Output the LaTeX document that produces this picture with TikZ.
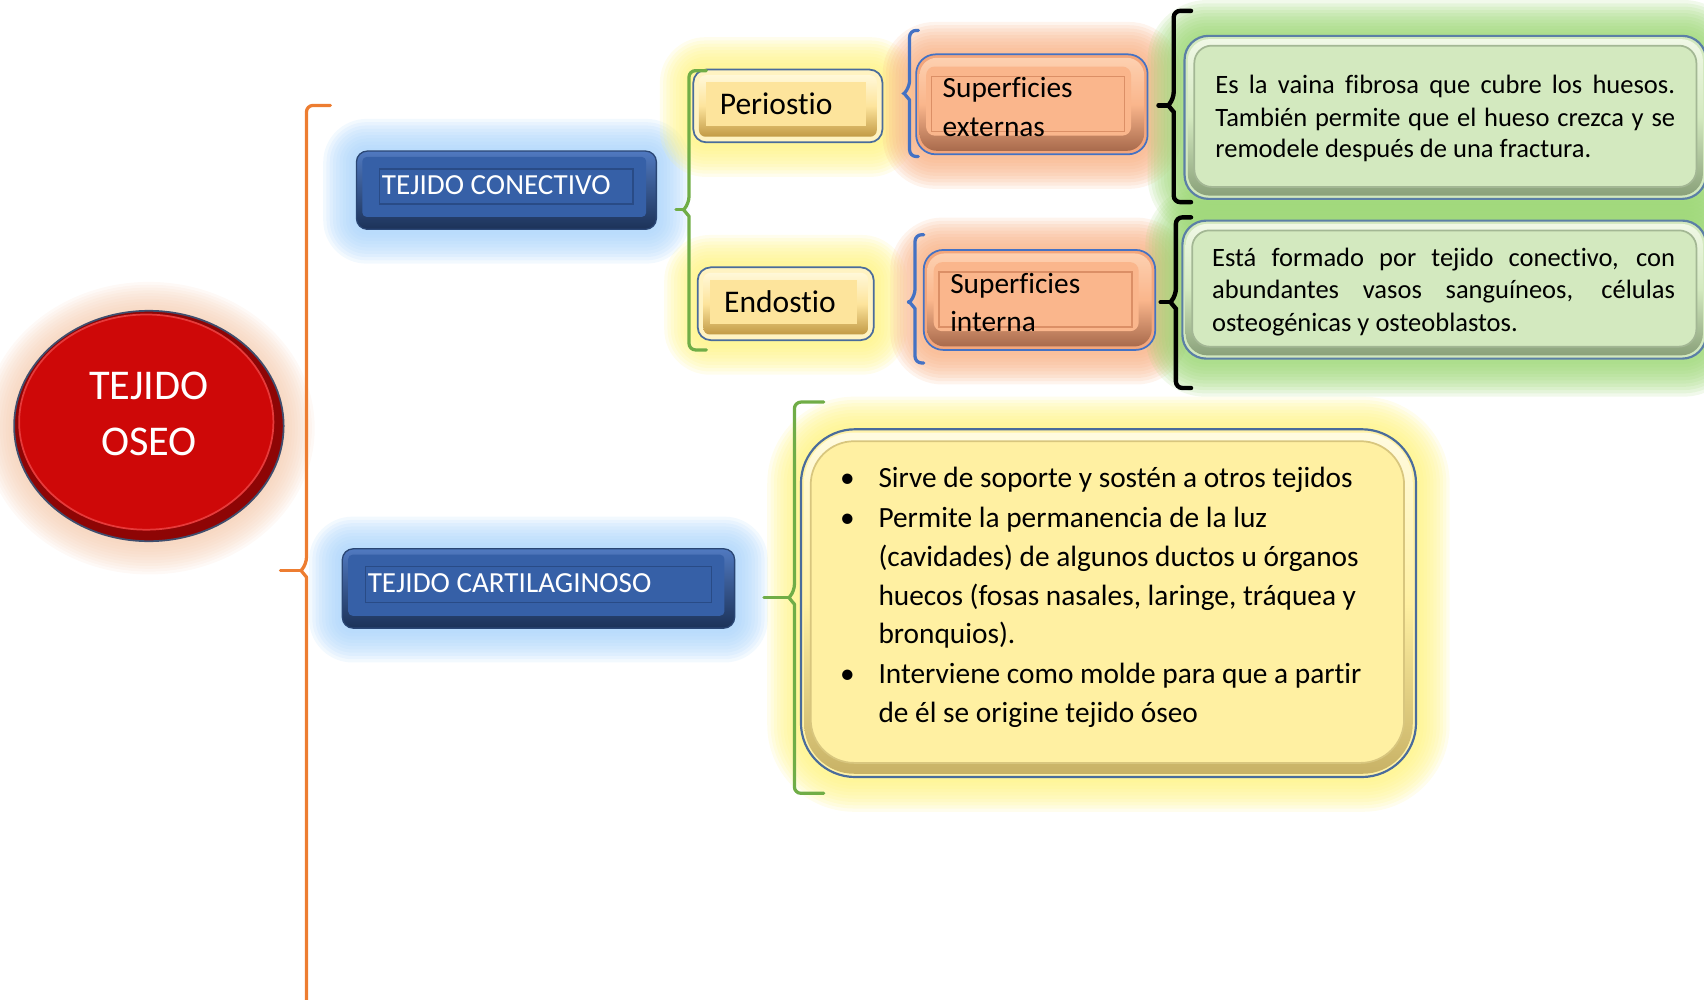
\documentclass[tikz,border=0pt]{standalone}
\usepackage{fontspec}
\setmainfont{Carlito}[Ligatures=NoCommon]
\usetikzlibrary{backgrounds,calc,shapes.geometric}
\definecolor{blueTop}{HTML}{5079C0}
\definecolor{blueBot}{HTML}{1C3258}
\definecolor{blueFace}{HTML}{3660A7}
\definecolor{blueEdge}{HTML}{2A4674}
\definecolor{blueLine}{HTML}{294B86}
\definecolor{goldFill}{HTML}{FFF3C2}
\definecolor{frameEdge}{HTML}{4A6C9B}
\definecolor{goldTop}{HTML}{FFF8D8}
\definecolor{goldBot}{HTML}{C29A45}
\definecolor{goldFace}{HTML}{FDE49C}
\definecolor{salEdge}{HTML}{4472C4}
\definecolor{salFill}{HTML}{F3A67C}
\definecolor{salTop}{HTML}{FDD0B0}
\definecolor{salBot}{HTML}{A86A4C}
\definecolor{salFace}{HTML}{FAB68C}
\definecolor{salLine}{HTML}{DB8F66}
\definecolor{grnEdge}{HTML}{5B7FA6}
\definecolor{grnFill}{HTML}{D2E8BE}
\definecolor{grnTop}{HTML}{F0F8E6}
\definecolor{grnBot}{HTML}{8AA17A}
\definecolor{grnFace}{HTML}{D3E9BF}
\definecolor{grnLine}{HTML}{A3B794}
\definecolor{ylwFill}{HTML}{FFF2A8}
\definecolor{ylwTop}{HTML}{FFFBE0}
\definecolor{ylwBot}{HTML}{C8B266}
\definecolor{ylwFace}{HTML}{FFF0A2}
\definecolor{ylwLine}{HTML}{D8C67E}
\definecolor{redDark}{HTML}{8E0505}
\definecolor{redMain}{HTML}{CE0808}
\definecolor{redLight}{HTML}{E63A3A}
\definecolor{redEdge}{HTML}{3F4E6E}
\definecolor{glowBlue}{HTML}{A6D2FB}
\definecolor{glowYellow}{HTML}{FFF37E}
\definecolor{glowOrange}{HTML}{F8AE80}
\definecolor{glowGreen}{HTML}{9AD672}
\definecolor{glowRed}{HTML}{F4C8AA}
\definecolor{braceOrange}{HTML}{ED7D31}
\definecolor{braceGreen}{HTML}{70AD47}
\definecolor{braceBlue}{HTML}{4472C4}

\newcommand\insetbox[6]{\path[#6] ([shift={(#2,-#3)}]#1.north west) rectangle ([shift={(-#4,#5)}]#1.south east);}
\newcommand\rectglow[4]{\foreach \k in {1,...,#4}{\fill[#2, fill opacity=0.14, rounded corners={#3+1.5pt*\k}] ([shift={(-1.5pt*\k,1.5pt*\k-0.5pt)}]#1.north west) rectangle ([shift={(1.5pt*\k,-1.5pt*\k-0.5pt)}]#1.south east);}}
\newcommand\bracket[7]{%
  \draw[#1] (#5,#3) [rounded corners=3pt] -- (#2,#3) -- (#2,#6-6) [sharp corners] -- (#2-5,#6) -- (#2,#6+6) [rounded corners=3pt] -- (#2,#4) -- (#5,#4);
  \draw[#1] (#7,#6) -- (#2-5,#6);}

\tikzset{
  bluebox/.style={draw=blueEdge, line width=0.6pt, rounded corners=5pt, inner sep=0pt, top color=blueTop, bottom color=blueBot},
  goldbox/.style={draw=frameEdge, line width=0.8pt, rounded corners=6pt, inner sep=0pt, fill=goldFill},
  salbox/.style={draw=salEdge, line width=0.8pt, rounded corners=9pt, inner sep=0pt, fill=salFill},
  grnbox/.style={draw=grnEdge, line width=1pt, rounded corners=11pt, inner sep=0pt, fill=grnFill},
  ylwbox/.style={draw=frameEdge, line width=1pt, rounded corners=25pt, inner sep=0pt, fill=ylwFill},
  txt/.style={anchor=base west, inner sep=0pt},
  bracecol/.style={line width=1.5pt, line cap=round, line join=round},
}

\begin{document}
\begin{tikzpicture}[x=0.5pt,y=-0.5pt]
\useasboundingbox (0,0) rectangle (1568,920);

% ---------- main shapes ----------
\node[ellipse, minimum width=124pt, minimum height=106pt, inner sep=0pt, fill=redDark, draw=redEdge, line width=0.8pt] (oseo) at (137,392) {};
\node[bluebox, minimum width=138pt, minimum height=36pt] (conec) at (466,175) {};
\node[bluebox, minimum width=180.5pt, minimum height=36.5pt] (cart) at (495.5,541.5) {};
\node[goldbox, minimum width=87pt, minimum height=33.5pt] (peri) at (725,97.5) {};
\node[goldbox, minimum width=81pt, minimum height=33.5pt] (endo) at (723,279.5) {};
\node[salbox, minimum width=106.5pt, minimum height=46pt] (supext) at (949.5,96) {};
\node[salbox, minimum width=106.5pt, minimum height=46pt] (supint) at (956.5,276) {};
\node[grnbox, minimum width=240pt, minimum height=75pt] (def1) at (1330,108) {};
\node[grnbox, minimum width=241pt, minimum height=63.5pt] (def2) at (1329,266.5) {};
\node[ylwbox, minimum width=283pt, minimum height=160pt] (cartxt) at (1020,555) {};

% ---------- glows ----------
\begin{pgfonlayer}{background}
  \foreach \k in {1,...,11}{\fill[glowRed, fill opacity=0.10] ([yshift=-1pt]oseo.center) ellipse [x radius={62pt+1.3pt*\k}, y radius={53pt+1.3pt*\k}];}
  \rectglow{conec}{glowBlue}{5pt}{10}
  \rectglow{cart}{glowBlue}{5pt}{10}
  \rectglow{peri}{glowYellow}{6pt}{10}
  \rectglow{endo}{glowYellow}{6pt}{10}
  \rectglow{supext}{glowOrange}{9pt}{10}
  \rectglow{supint}{glowOrange}{9pt}{10}
  \rectglow{def1}{glowGreen}{11pt}{11}
  \rectglow{def2}{glowGreen}{11pt}{11}
  \rectglow{cartxt}{glowYellow}{25pt}{10}
\end{pgfonlayer}

% ---------- braces ----------
\bracket{bracecol, braceOrange}{282}{97}{940}{304}{525}{258}
\bracket{bracecol, braceGreen}{634}{65}{322}{650}{193}{622}
\bracket{bracecol, braceBlue}{837}{28}{144}{845}{86}{831}
\bracket{bracecol, braceBlue}{842}{216}{334}{850}{278}{836}
\bracket{line width=2pt, line cap=round, black}{1080}{10}{186}{1096}{97}{1066}
\bracket{line width=2pt, line cap=round, black}{1082}{200}{357}{1096}{278}{1068}
\bracket{bracecol, braceGreen}{731}{370}{730}{758}{550}{703}

% ---------- bevels ----------
\fill[redMain] ([shift={(-1.2pt,1.8pt)}]oseo.center) ellipse [x radius=58.5pt, y radius=49.5pt];
\draw[redLight, line width=0.8pt] ([shift={(-1.2pt,1.8pt)}]oseo.center) ellipse [x radius=58.5pt, y radius=49.5pt];

\insetbox{conec}{3pt}{3pt}{5pt}{6pt}{fill=blueFace, rounded corners=2pt}
\insetbox{conec}{11pt}{8.5pt}{11pt}{12pt}{draw=blueLine, line width=0.7pt}
\insetbox{cart}{3pt}{3pt}{5pt}{6pt}{fill=blueFace, rounded corners=2pt}
\insetbox{cart}{11pt}{8.5pt}{11pt}{12pt}{draw=blueLine, line width=0.7pt}

\insetbox{peri}{3pt}{3pt}{3pt}{3pt}{top color=goldTop, bottom color=goldBot, middle color=goldFace, rounded corners=3pt}
\insetbox{peri}{6pt}{6pt}{8pt}{8pt}{fill=goldFace}
\insetbox{endo}{3pt}{3pt}{3pt}{3pt}{top color=goldTop, bottom color=goldBot, middle color=goldFace, rounded corners=3pt}
\insetbox{endo}{6pt}{6pt}{8pt}{8pt}{fill=goldFace}

\insetbox{supext}{2pt}{2pt}{2pt}{2pt}{top color=salTop, bottom color=salBot, middle color=salFace, rounded corners=8pt}
\insetbox{supext}{5pt}{6pt}{8pt}{9pt}{fill=salFace, rounded corners=4pt}
\insetbox{supext}{7.5pt}{10.5pt}{11pt}{11pt}{draw=salLine, line width=0.7pt}
\insetbox{supint}{2pt}{2pt}{2pt}{2pt}{top color=salTop, bottom color=salBot, middle color=salFace, rounded corners=8pt}
\insetbox{supint}{5pt}{6pt}{8pt}{9pt}{fill=salFace, rounded corners=4pt}
\insetbox{supint}{7.5pt}{10.5pt}{11pt}{11pt}{draw=salLine, line width=0.7pt}

\insetbox{def1}{2pt}{2pt}{2pt}{2pt}{top color=grnTop, bottom color=grnBot, middle color=grnFace, rounded corners=10pt}
\insetbox{def1}{5pt}{5pt}{5pt}{6pt}{fill=grnFace, draw=grnLine, line width=0.8pt, rounded corners=8pt}
\insetbox{def2}{2pt}{2pt}{2pt}{2pt}{top color=grnTop, bottom color=grnBot, middle color=grnFace, rounded corners=10pt}
\insetbox{def2}{5pt}{5pt}{5pt}{6pt}{fill=grnFace, draw=grnLine, line width=0.8pt, rounded corners=8pt}

\insetbox{cartxt}{2pt}{2pt}{2pt}{2pt}{top color=ylwTop, bottom color=ylwBot, middle color=ylwFace, rounded corners=23pt}
\insetbox{cartxt}{5pt}{6pt}{6pt}{7pt}{fill=ylwFace, draw=ylwLine, line width=0.8pt, rounded corners=20pt}

% ---------- texts ----------
\node[anchor=base, inner sep=0pt, text=white, font=\fontsize{19.5}{24}\selectfont] (oseo1) at (137,368) {TEJIDO};
\node[anchor=base, inner sep=0pt, text=white, font=\fontsize{19.5}{24}\selectfont] (oseo2) at (137,419) {OSEO};

\node[txt, text=white, font=\fontsize{13.4}{16}\selectfont] (conect) at (351,179) {TEJIDO CONECTIVO};
\node[txt, text=white, font=\fontsize{13.4}{16}\selectfont] (cartt) at (338,545) {TEJIDO CARTILAGINOSO};

\node[txt, font=\fontsize{14.5}{17}\selectfont] (perit) at (662,105) {Periostio};
\node[txt, font=\fontsize{14.5}{17}\selectfont] (endot) at (666,288) {Endostio};

\node[txt, font=\fontsize{13.5}{16}\selectfont] (se1) at (867,90) {Superficies};
\node[txt, font=\fontsize{13.5}{16}\selectfont] (se2) at (867,126) {externas};
\node[txt, font=\fontsize{13.5}{16}\selectfont] (si1) at (874,270) {Superficies};
\node[txt, font=\fontsize{13.5}{16}\selectfont] (si2) at (874,305) {interna};

\node[txt, font=\fontsize{12.2}{15}\selectfont] (d11) at (1118,86) {\makebox[211.5pt][s]{Es la vaina fibrosa que cubre los huesos.}};
\node[txt, font=\fontsize{12.2}{15}\selectfont] (d12) at (1118,116) {\makebox[211.5pt][s]{También permite que el hueso crezca y se}};
\node[txt, font=\fontsize{12.2}{15}\selectfont] (d13) at (1118,145) {remodele después de una fractura.};

\node[txt, font=\fontsize{12.2}{15}\selectfont] (d21) at (1115,245) {\makebox[213pt][s]{Está formado por tejido conectivo, con}};
\node[txt, font=\fontsize{12.2}{15}\selectfont] (d22) at (1115,275) {\makebox[213pt][s]{abundantes vasos sanguíneos, células}};
\node[txt, font=\fontsize{12.2}{15}\selectfont] (d23) at (1115,305) {osteogénicas y osteoblastos.};

\node[txt, font=\fontsize{13.5}{16}\selectfont] (c1) at (808,449) {\llap{\textbullet\hspace{11pt}}Sirve de soporte y sostén a otros tejidos};
\node[txt, font=\fontsize{13.5}{16}\selectfont] (c2) at (808,485) {\llap{\textbullet\hspace{11pt}}Permite la permanencia de la luz};
\node[txt, font=\fontsize{13.5}{16}\selectfont] (c3) at (808,521) {(cavidades) de algunos ductos u órganos};
\node[txt, font=\fontsize{13.5}{16}\selectfont] (c4) at (808,557) {huecos (fosas nasales, laringe, tráquea y};
\node[txt, font=\fontsize{13.5}{16}\selectfont] (c5) at (808,592) {bronquios).};
\node[txt, font=\fontsize{13.5}{16}\selectfont] (c6) at (808,629) {\llap{\textbullet\hspace{11pt}}Interviene como molde para que a partir};
\node[txt, font=\fontsize{13.5}{16}\selectfont] (c7) at (808,665) {de él se origine tejido óseo};
\end{tikzpicture}
\end{document}
